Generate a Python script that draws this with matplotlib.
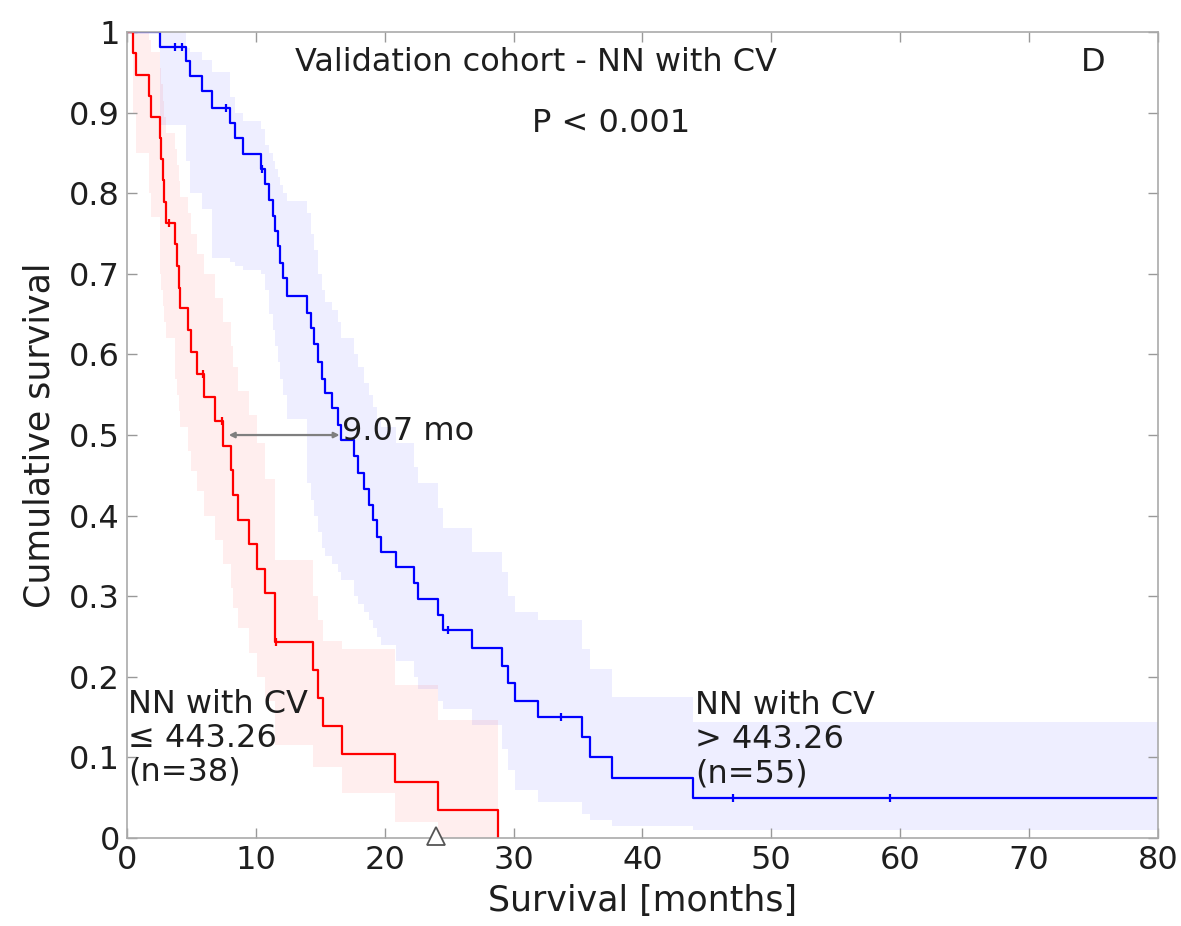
import numpy as np
import matplotlib
matplotlib.use("Agg")
import matplotlib.pyplot as plt

# Kaplan-Meier steps (months, survival after event)
blue_t = [0, 2.6, 4.6, 4.9, 5.8, 6.6, 8.0, 8.4, 9.0,
          10.4, 10.7, 11.0, 11.3, 11.5, 11.7, 11.9, 12.1, 12.4,
          14.0, 14.3, 14.5, 14.8, 15.1, 15.4, 15.9, 16.4, 16.6,
          17.6, 17.9, 18.4, 18.8, 19.1, 19.4, 19.7,
          20.9, 22.3, 22.6, 24.1, 24.5, 26.8,
          29.1, 29.6, 30.1, 31.9, 35.3, 35.9, 37.6, 43.9]
blue_s = [1.0, 0.982, 0.964, 0.945, 0.927, 0.906, 0.887, 0.868, 0.849,
          0.830, 0.811, 0.792, 0.772, 0.753, 0.734, 0.714, 0.695, 0.672,
          0.652, 0.633, 0.613, 0.590, 0.570, 0.552, 0.533, 0.512, 0.494,
          0.474, 0.453, 0.433, 0.413, 0.394, 0.374, 0.355,
          0.336, 0.316, 0.296, 0.277, 0.258, 0.236,
          0.214, 0.192, 0.170, 0.150, 0.125, 0.100, 0.074, 0.050]
blue_lo = [1.0, 0.885, 0.84, 0.80, 0.78, 0.72, 0.715, 0.71, 0.705,
           0.70, 0.68, 0.65, 0.63, 0.61, 0.59, 0.57, 0.55, 0.52,
           0.44, 0.42, 0.40, 0.38, 0.36, 0.35, 0.34, 0.33, 0.32,
           0.30, 0.29, 0.28, 0.27, 0.26, 0.25, 0.24,
           0.22, 0.20, 0.185, 0.17, 0.16, 0.14,
           0.11, 0.085, 0.06, 0.045, 0.03, 0.022, 0.015, 0.01]
blue_hi = [1.0, 1.0, 0.98, 0.975, 0.965, 0.95, 0.92, 0.90, 0.89,
           0.88, 0.86, 0.85, 0.84, 0.83, 0.82, 0.81, 0.80, 0.79,
           0.775, 0.75, 0.73, 0.70, 0.68, 0.665, 0.655, 0.64, 0.62,
           0.60, 0.585, 0.565, 0.55, 0.535, 0.52, 0.51,
           0.49, 0.46, 0.44, 0.41, 0.385, 0.355,
           0.33, 0.30, 0.28, 0.27, 0.235, 0.21, 0.175, 0.144]
blue_cens = [3.7, 4.3, 7.7, 10.5, 24.9, 33.7, 47.0, 59.2]

red_t = [0, 0.5, 0.7, 1.7, 1.9, 2.6, 2.65, 2.8, 2.9, 3.0,
         3.7, 3.85, 4.0, 4.15, 4.7, 5.0, 5.4, 6.0, 6.8, 7.45,
         8.1, 8.2, 8.6, 9.5, 10.1, 10.7, 11.5, 14.4, 14.8, 15.2,
         16.7, 20.8, 24.1, 28.8]
red_s = [1.0, 0.974, 0.947, 0.921, 0.895, 0.868, 0.842, 0.816, 0.789, 0.763,
         0.737, 0.710, 0.683, 0.657, 0.630, 0.603, 0.576, 0.547, 0.517, 0.486,
         0.456, 0.426, 0.395, 0.365, 0.334, 0.304, 0.243, 0.208, 0.174, 0.139,
         0.104, 0.069, 0.035, 0.0]
red_lo = [1.0, 0.90, 0.85, 0.80, 0.77, 0.70, 0.68, 0.66, 0.64, 0.62,
          0.57, 0.55, 0.53, 0.51, 0.48, 0.455, 0.43, 0.40, 0.37, 0.34,
          0.31, 0.285, 0.26, 0.23, 0.20, 0.17, 0.115, 0.088, 0.088, 0.088,
          0.056, 0.02, 0.0, 0.0]
red_hi = [1.0, 1.0, 1.0, 0.99, 0.975, 0.955, 0.935, 0.915, 0.895, 0.875,
          0.855, 0.835, 0.815, 0.795, 0.775, 0.75, 0.725, 0.70, 0.67, 0.64,
          0.61, 0.585, 0.555, 0.525, 0.49, 0.445, 0.345, 0.30, 0.27, 0.245,
          0.235, 0.19, 0.146, 0.146]
red_cens = [3.3, 5.9, 7.4, 11.6]

median_red = 7.9
median_blue = 16.5
x_end = 80


def step_value(times, vals, t):
    i = np.searchsorted(times, t, side='right') - 1
    return vals[i]


plt.rcParams['font.family'] = ['DejaVu Sans']
txt = '#1e1e1e'
fig = plt.figure(figsize=(11.81, 9.26), dpi=100)
ax = fig.add_axes([0.1075, 0.095, 0.873, 0.8704])

# confidence bands
bx = blue_t + [x_end]
ax.fill_between(bx, blue_lo + [blue_lo[-1]], blue_hi + [blue_hi[-1]],
                step='post', color='blue', alpha=0.065, lw=0)
ax.fill_between(red_t, red_lo, red_hi, step='post', color='red', alpha=0.065, lw=0)

# survival curves
ax.step(bx, blue_s + [blue_s[-1]], where='post', color='#0000ff', lw=1.6)
ax.step(red_t, red_s, where='post', color='#ff0000', lw=1.6)

# censor ticks
ax.plot(blue_cens, [step_value(blue_t, blue_s, t) for t in blue_cens], ls='none',
        marker='|', ms=6, mew=1.6, color='#0000ff')
ax.plot(red_cens, [step_value(red_t, red_s, t) for t in red_cens], ls='none',
        marker='|', ms=6, mew=1.6, color='#ff0000')

# median difference arrow
ax.annotate('', xy=(median_blue, 0.5), xytext=(median_red, 0.5),
            arrowprops=dict(arrowstyle='<|-|>', color='#7f7f7f', lw=1.6,
                            mutation_scale=8, shrinkA=0, shrinkB=0))
ax.text(median_blue + 0.15, 0.505, '9.07 mo', fontsize=23, va='center', ha='left', color=txt)

ax.plot([24], [0.003], marker='^', ms=13, mfc='white', mec='#555555', mew=1.3,
        clip_on=False, zorder=5)

ax.text(31.7, 0.962, 'Validation cohort - NN with CV', fontsize=23, ha='center', va='center', color=txt)
ax.text(37.6, 0.887, 'P < 0.001', fontsize=23, ha='center', va='center', color=txt)
ax.text(75.0, 0.962, 'D', fontsize=23, ha='center', va='center', color=txt)

ax.text(0.1, 0.124, 'NN with CV\n\u2264 443.26\n(n=38)', fontsize=23, ha='left',
        va='center', linespacing=1.12, color=txt)
ax.text(44.1, 0.122, 'NN with CV\n> 443.26\n(n=55)', fontsize=23, ha='left',
        va='center', linespacing=1.12, color=txt)

ax.set_xlim(0, x_end)
ax.set_ylim(0, 1)
ax.set_xticks(np.arange(0, 81, 10))
ax.set_yticks(np.arange(0, 1.01, 0.1))
ax.set_yticklabels(['0', '0.1', '0.2', '0.3', '0.4', '0.5', '0.6', '0.7', '0.8', '0.9', '1'])
ax.tick_params(direction='in', length=7, width=1, colors='#999999', labelcolor=txt,
               labelsize=23, top=True, right=True, pad=5)
for sp in ax.spines.values():
    sp.set_color('#aaaaaa')
    sp.set_linewidth(1.2)

ax.set_xlabel('Survival [months]', fontsize=25, color=txt, labelpad=6)
ax.set_ylabel('Cumulative survival', fontsize=25, color=txt, labelpad=9)

fig.savefig('out.png', dpi=100)
